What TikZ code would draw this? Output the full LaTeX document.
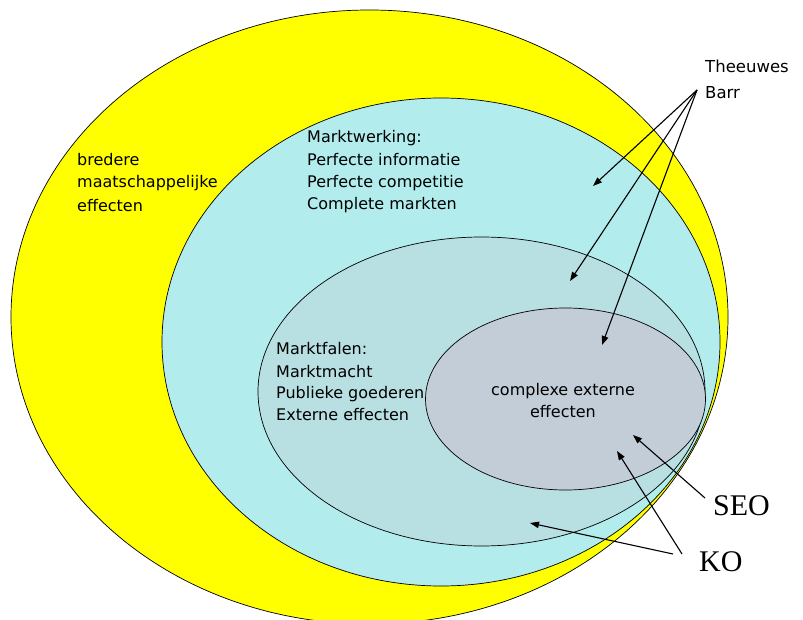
\documentclass[tikz,border=0pt]{standalone}
\usepackage{fontspec}
\usetikzlibrary{shapes.geometric,arrows.meta}
\newfontfamily\labelfont{DejaVu Sans}
\newfontfamily\bigserif{Liberation Serif}
\definecolor{yellowfill}{RGB}{255,255,0}
\definecolor{cyanfill}{RGB}{178,236,236}
\definecolor{falenfill}{RGB}{184,223,226}
\definecolor{innerfill}{RGB}{195,205,216}
\begin{document}
\begin{tikzpicture}[x=1pt,y=-1pt,
  zone/.style={ellipse,draw=black,line width=0.7pt,inner sep=0pt},
  txt/.style={anchor=base west,inner sep=0pt,font=\labelfont\fontsize{16}{19}\selectfont},
  ctxt/.style={anchor=base,inner sep=0pt,font=\labelfont\fontsize{16}{19}\selectfont},
  big/.style={anchor=base west,inner sep=0pt,font=\bigserif\fontsize{30}{34}\selectfont},
  pointer/.style={line width=1.1pt,-{Triangle[length=9pt,width=6.5pt]}}]
\useasboundingbox (0,0) rectangle (803,620);
\node[zone,fill=yellowfill,minimum width=717pt,minimum height=614pt] (outer) at (369.5,317) {};
\node[zone,fill=cyanfill,minimum width=558pt,minimum height=488pt] (werking) at (441,342) {};
\node[zone,fill=falenfill,minimum width=447pt,minimum height=309pt] (falen) at (481.5,391.5) {};
\node[zone,fill=innerfill,minimum width=280pt,minimum height=182pt] (complex) at (565.5,399) {};
% texts
\node[txt] (b1) at (77,166) {bredere};
\node[txt] (b2) at (77,188) {maatschappelijke};
\node[txt] (b3) at (77,212) {effecten};
\node[txt] (w1) at (307,143) {Marktwerking:};
\node[txt] (w2) at (307,166) {Perfecte informatie};
\node[txt] (w3) at (307,188) {Perfecte competitie};
\node[txt] (w4) at (307,210) {Complete markten};
\node[txt] (f1) at (276,354) {Marktfalen:};
\node[txt] (f2) at (276,377) {Marktmacht};
\node[txt] (f3) at (276,398) {Publieke goederen};
\node[txt] (f4) at (276,420) {Externe effecten};
\node[ctxt] (c1) at (563,395) {complexe externe};
\node[ctxt] (c2) at (563,417) {effecten};
\node[txt,font=\labelfont\fontsize{16.5}{19}\selectfont] (theeuwes) at (705,73) {Theeuwes};
\node[txt,font=\labelfont\fontsize{16.5}{19}\selectfont] (barr) at (705,99) {Barr};
\node[big] (seo) at (713,515) {SEO};
\node[big] (ko) at (699,571) {KO};
% arrow ends
\coordinate (tb) at (697,90);
\coordinate (t1) at (593,186);
\coordinate (t2) at (570,281);
\coordinate (t3) at (602,345);
\coordinate (s0) at (705,498);
\coordinate (s1) at (633,435);
\coordinate (k0) at (682,554);
\coordinate (k1) at (617,451);
\coordinate (k2) at (673,554);
\coordinate (k3) at (530,523);
\draw[pointer] (tb) -- (t1);
\draw[pointer] (tb) -- (t2);
\draw[pointer] (tb) -- (t3);
\draw[pointer] (s0) -- (s1);
\draw[pointer] (k0) -- (k1);
\draw[pointer] (k2) -- (k3);
\end{tikzpicture}
\end{document}
